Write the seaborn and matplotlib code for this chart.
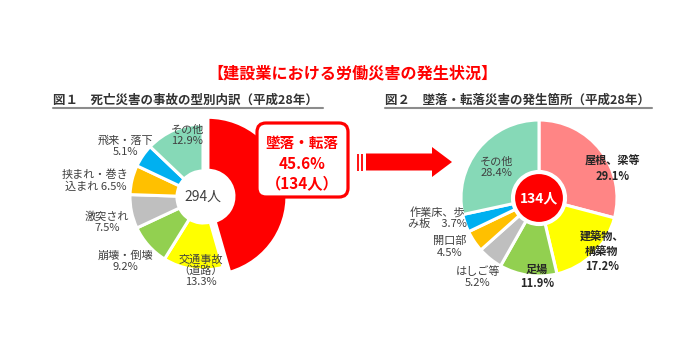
import matplotlib
matplotlib.use("Agg")
import matplotlib.pyplot as plt
import numpy as np
import seaborn as sns
from matplotlib.patches import FancyBboxPatch

sns.set_theme(style="white")
plt.rcParams['font.family'] = ['Noto Sans CJK JP', 'DejaVu Sans']

# ---------------- data ----------------
title = "【建設業における労働災害の発生状況】"
sub1 = "図１　死亡災害の事故の型別内訳（平成28年）"
sub2 = "図２　墜落・転落災害の発生箇所（平成28年）"

cats1 = ["墜落・転落", "交通事故\n（道路）", "崩壊・倒壊", "激突され",
         "挟まれ・巻き\n込まれ", "飛来・落下", "その他"]
vals1 = [45.6, 13.3, 9.2, 7.5, 6.5, 5.1, 12.9]
total1 = "294人"
callout_count = "134人"

cats2 = ["屋根、梁等", "建築物、\n構築物", "足場", "はしご等", "開口部",
         "作業床、歩\nみ板", "その他"]
vals2 = [29.1, 17.2, 11.9, 5.2, 4.5, 3.7, 28.4]
total2 = "134人"

# ---------------- styles ----------------
cols1 = ["#FF0000", "#FFFF00", "#92D050", "#BFBFBF", "#FFC000", "#00B0F0", "#86D9B7"]
cols2 = ["#FF8585", "#FFFF00", "#92D050", "#BFBFBF", "#FFC000", "#00B0F0", "#86D9B7"]
txt = "#404040"
H = 350

fig = plt.figure(figsize=(7, 3.5), dpi=100)
ax = fig.add_axes([0, 0, 1, 1])

# ---------- pie 1 (donut) ----------
c1 = (203, H - 197)
r1 = 73
hole = 26
explode1 = [5] + [0] * (len(vals1) - 1)
w1, _ = ax.pie(vals1, colors=cols1, startangle=90, counterclock=False,
               center=c1, radius=r1, explode=explode1,
               wedgeprops=dict(width=r1 - hole, edgecolor="white", linewidth=2.2))
w1[0].set_radius(79)
w1[0].set_width(79 - hole)

lab1_layout = [None, (1.01, -6), (1.38, 2), (1.36, -3), (1.49, -5), (1.27, -1), (0.87, 9)]
inline1 = [False, False, False, False, True, False, False]
for w, name, v, lay, inl in zip(w1, cats1, vals1, lab1_layout, inline1):
    if lay is None:
        continue
    d, off = lay
    mid_clock = 90 - (w.theta1 + w.theta2) / 2 + off
    a = np.deg2rad(90 - mid_clock)
    x = c1[0] + d * r1 * np.cos(a)
    y = c1[1] + d * r1 * np.sin(a)
    s = f"{name} {v}%" if inl else f"{name}\n{v}%"
    ax.text(x, y, s, ha="center", va="center", fontsize=8, color=txt, linespacing=1.15)

ax.text(c1[0], c1[1], total1, ha="center", va="center", fontsize=10, color=txt)

# ---------- callout ----------
box = FancyBboxPatch((257, H - 197), 91, 74, boxstyle="round,pad=0,rounding_size=9",
                     facecolor="white", edgecolor="#FF0000", linewidth=2.3, zorder=5)
ax.add_patch(box)
ax.text(302, H - 143, cats1[0], ha="center", va="center", fontsize=10.5,
        color="#FF0000", fontweight="bold", zorder=6)
ax.text(302, H - 164, f"{vals1[0]}%", ha="center", va="center", fontsize=11,
        color="#FF0000", fontweight="bold", zorder=6)
ax.text(302, H - 184, f"（{callout_count}）", ha="center", va="center", fontsize=11,
        color="#FF0000", fontweight="bold", zorder=6)

# ---------- arrow ----------
ay = H - 162
ax.arrow(366, ay, 66, 0, width=17, head_width=30, head_length=20,
         length_includes_head=False, color="#FF0000", linewidth=0)
ax.vlines([358, 361.5], ay - 8.5, ay + 8.5, color="#FF0000", linewidth=1.3)

# ---------- pie 2 ----------
c2 = (539, H - 198)
r2 = 78
w2, _ = ax.pie(vals2, colors=cols2, startangle=90, counterclock=False,
               center=c2, radius=r2,
               wedgeprops=dict(edgecolor="white", linewidth=2.2))
ax.pie([1], colors=["#FF0000"], center=c2, radius=26,
       wedgeprops=dict(edgecolor="white", linewidth=3))

lab2_layout = [(1.01, 16), (1.06, -5), (1.01, -6.5), (1.28, -1), (1.31, 5), (1.33, 8), (0.67, -3)]
inline2 = [False, False, False, False, False, True, False]
bold2 = [True, True, True, False, False, False, False]
for w, name, v, lay, inl, b in zip(w2, cats2, vals2, lab2_layout, inline2, bold2):
    d, off = lay
    mid_clock = 90 - (w.theta1 + w.theta2) / 2 + off
    a = np.deg2rad(90 - mid_clock)
    x = c2[0] + d * r2 * np.cos(a)
    y = c2[1] + d * r2 * np.sin(a)
    s = f"{name}　{v}%" if inl else f"{name}\n{v}%"
    ax.text(x, y, s, ha="center", va="center", fontsize=8,
            color="#262626" if b else txt, fontweight="bold" if b else "normal",
            linespacing=1.15)

ax.text(c2[0], c2[1], total2, ha="center", va="center", fontsize=10,
        color="white", fontweight="bold")

# ---------- titles ----------
ax.text(352, H - 73, title, ha="center", va="center", fontsize=11.6,
        color="#FF0000", fontweight="bold")
ax.text(53, H - 100, sub1, ha="left", va="center", fontsize=9, color="#333333",
        fontweight="bold")
ax.text(385, H - 100, sub2, ha="left", va="center", fontsize=9, color="#333333",
        fontweight="bold")
ax.plot([53, 323], [H - 108, H - 108], color="#8C8C8C", linewidth=1.5)
ax.plot([385, 652], [H - 108, H - 108], color="#8C8C8C", linewidth=1.5)

ax.set_xlim(0, 700)
ax.set_ylim(0, 350)
ax.set_aspect("equal")
ax.axis("off")

fig.savefig("out.png", dpi=100, facecolor="white")
